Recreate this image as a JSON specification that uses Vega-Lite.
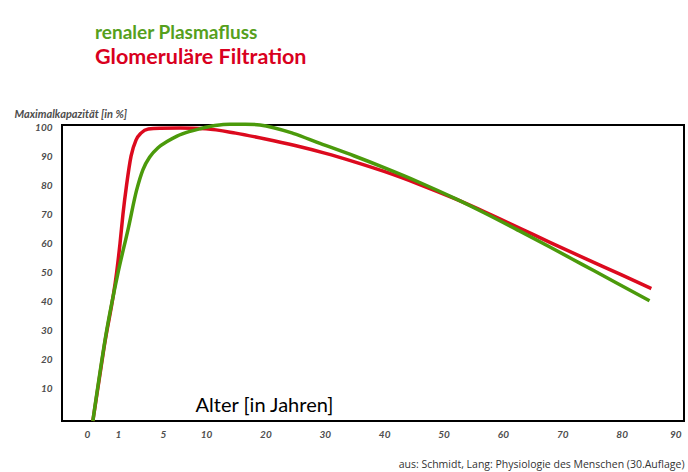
{
  "$schema": "https://vega.github.io/schema/vega-lite/v6.json",
  "autosize": "none",
  "width": 622,
  "height": 296,
  "padding": {"left": 62, "top": 125, "right": 4, "bottom": 51},
  "background": "white",
  "title": {
    "text": "renaler Plasmafluss",
    "subtitle": "Glomeruläre Filtration",
    "anchor": "start",
    "frame": "group",
    "orient": "top",
    "dx": 33,
    "dy": -36,
    "font": "Lato",
    "fontSize": 19,
    "fontWeight": "bold",
    "color": "#56a01d",
    "subtitleFont": "Lato",
    "subtitleFontSize": 21.5,
    "subtitleFontWeight": "bold",
    "subtitleColor": "#d9001e",
    "subtitlePadding": 4
  },
  "config": {
    "view": {"stroke": "black", "strokeWidth": 2},
    "axis": {"grid": false, "ticks": false, "domain": false}
  },
  "data": {
    "values": [
      {"series": "Glomeruläre Filtration", "age": 0.26, "value": -1},
      {"series": "Glomeruläre Filtration", "age": 0.6, "value": 25},
      {"series": "Glomeruläre Filtration", "age": 0.96, "value": 50},
      {"series": "Glomeruläre Filtration", "age": 1.18, "value": 60},
      {"series": "Glomeruläre Filtration", "age": 1.44, "value": 70},
      {"series": "Glomeruläre Filtration", "age": 1.76, "value": 80},
      {"series": "Glomeruläre Filtration", "age": 2.16, "value": 90},
      {"series": "Glomeruläre Filtration", "age": 2.6, "value": 95.5},
      {"series": "Glomeruläre Filtration", "age": 3.07, "value": 98},
      {"series": "Glomeruläre Filtration", "age": 3.7, "value": 99.3},
      {"series": "Glomeruläre Filtration", "age": 4.7, "value": 99.6},
      {"series": "Glomeruläre Filtration", "age": 7, "value": 99.7},
      {"series": "Glomeruläre Filtration", "age": 10, "value": 99.4},
      {"series": "Glomeruläre Filtration", "age": 15, "value": 97.9},
      {"series": "Glomeruläre Filtration", "age": 20, "value": 95.9},
      {"series": "Glomeruläre Filtration", "age": 25, "value": 93.65},
      {"series": "Glomeruläre Filtration", "age": 30, "value": 91.05},
      {"series": "Glomeruläre Filtration", "age": 35, "value": 88.05},
      {"series": "Glomeruläre Filtration", "age": 40, "value": 84.75},
      {"series": "Glomeruläre Filtration", "age": 46, "value": 80.25},
      {"series": "Glomeruläre Filtration", "age": 52, "value": 75.3},
      {"series": "Glomeruläre Filtration", "age": 57, "value": 70.8},
      {"series": "Glomeruläre Filtration", "age": 62.7, "value": 65.4},
      {"series": "Glomeruläre Filtration", "age": 68, "value": 60.3},
      {"series": "Glomeruläre Filtration", "age": 74, "value": 54.7},
      {"series": "Glomeruläre Filtration", "age": 80, "value": 49.2},
      {"series": "Glomeruläre Filtration", "age": 85, "value": 44.5},
      {"series": "renaler Plasmafluss", "age": 0.26, "value": -1},
      {"series": "renaler Plasmafluss", "age": 0.67, "value": 30.3},
      {"series": "renaler Plasmafluss", "age": 1.0, "value": 49.9},
      {"series": "renaler Plasmafluss", "age": 1.92, "value": 65.3},
      {"series": "renaler Plasmafluss", "age": 2.66, "value": 78.4},
      {"series": "renaler Plasmafluss", "age": 3.22, "value": 85.4},
      {"series": "renaler Plasmafluss", "age": 3.84, "value": 89.8},
      {"series": "renaler Plasmafluss", "age": 4.56, "value": 92.9},
      {"series": "renaler Plasmafluss", "age": 5.47, "value": 95.0},
      {"series": "renaler Plasmafluss", "age": 6.63, "value": 96.9},
      {"series": "renaler Plasmafluss", "age": 8.14, "value": 98.5},
      {"series": "renaler Plasmafluss", "age": 9.3, "value": 99.4},
      {"series": "renaler Plasmafluss", "age": 11.5, "value": 100.5},
      {"series": "renaler Plasmafluss", "age": 14, "value": 101.0},
      {"series": "renaler Plasmafluss", "age": 16.6, "value": 101.0},
      {"series": "renaler Plasmafluss", "age": 19.1, "value": 100.7},
      {"series": "renaler Plasmafluss", "age": 24.65, "value": 97.85},
      {"series": "renaler Plasmafluss", "age": 29.2, "value": 94.4},
      {"series": "renaler Plasmafluss", "age": 35, "value": 90.05},
      {"series": "renaler Plasmafluss", "age": 40, "value": 86.05},
      {"series": "renaler Plasmafluss", "age": 46, "value": 80.95},
      {"series": "renaler Plasmafluss", "age": 52, "value": 75.4},
      {"series": "renaler Plasmafluss", "age": 57, "value": 70.4},
      {"series": "renaler Plasmafluss", "age": 62.7, "value": 64.4},
      {"series": "renaler Plasmafluss", "age": 68, "value": 58.7},
      {"series": "renaler Plasmafluss", "age": 73.5, "value": 52.65},
      {"series": "renaler Plasmafluss", "age": 79, "value": 46.6},
      {"series": "renaler Plasmafluss", "age": 84.7, "value": 40.3}
    ]
  },
  "layer": [
    {
      "transform": [{"filter": "datum.series === 'Glomeruläre Filtration'"}],
      "mark": {"type": "line", "interpolate": "monotone", "strokeWidth": 3.5, "strokeCap": "butt"},
      "encoding": {
        "x": {
          "field": "age", "type": "quantitative",
          "scale": {"domain": [0, 1, 5, 10, 90], "range": [22, 56, 101, 144, 619], "nice": false, "zero": false},
          "axis": {
            "orient": "bottom",
            "values": [0, 1, 5, 10, 20, 30, 40, 50, 60, 70, 80, 90],
            "labelFont": "Lato", "labelFontSize": 10, "labelFontStyle": "italic", "labelFontWeight": "bold",
            "labelColor": "#4d4d4d", "labelPadding": 8,
            "title": "Alter [in Jahren]", "titleFont": "Lato", "titleFontSize": 20, "titleFontWeight": "normal",
            "titleColor": "black", "titleX": 202, "titleY": -16, "titleAlign": "center", "titleBaseline": "middle"
          }
        },
        "y": {
          "field": "value", "type": "quantitative",
          "scale": {"domain": [-1, 100.7], "nice": false, "zero": false},
          "axis": {
            "values": [10, 20, 30, 40, 50, 60, 70, 80, 90, 100],
            "labelFont": "Lato", "labelFontSize": 10, "labelFontStyle": "italic", "labelFontWeight": "bold",
            "labelColor": "#4d4d4d", "labelPadding": 10,
            "title": "Maximalkapazität [in %]", "titleFont": "Lato", "titleFontSize": 11, "titleFontStyle": "italic",
            "titleFontWeight": "bold", "titleColor": "#4d4d4d", "titleAngle": 0, "titleX": -48, "titleY": -11,
            "titleAlign": "left", "titleBaseline": "middle"
          }
        },
        "color": {
          "field": "series", "type": "nominal",
          "scale": {"domain": ["renaler Plasmafluss", "Glomeruläre Filtration"], "range": ["#4b9a0b", "#dc0a1e"]},
          "legend": null
        }
      }
    },
    {
      "transform": [{"filter": "datum.series === 'renaler Plasmafluss'"}],
      "mark": {"type": "line", "interpolate": "monotone", "strokeWidth": 3.5, "strokeCap": "butt"},
      "encoding": {
        "x": {
          "field": "age", "type": "quantitative",
          "scale": {"domain": [0, 1, 5, 10, 90], "range": [22, 56, 101, 144, 619], "nice": false, "zero": false},
          "axis": {
            "orient": "top", "labels": false,
            "title": "aus: Schmidt, Lang: Physiologie des Menschen (30.Auflage)",
            "titleFont": "Open Sans", "titleFontSize": 10.5, "titleFontWeight": "normal", "titleColor": "#333333",
            "titleX": 622, "titleY": 339, "titleAlign": "right", "titleBaseline": "middle"
          }
        },
        "y": {
          "field": "value", "type": "quantitative",
          "scale": {"domain": [-1, 100.7], "nice": false, "zero": false},
          "axis": {
            "values": [10, 20, 30, 40, 50, 60, 70, 80, 90, 100],
            "labelFont": "Lato", "labelFontSize": 10, "labelFontStyle": "italic", "labelFontWeight": "bold",
            "labelColor": "#4d4d4d", "labelPadding": 10,
            "title": "Maximalkapazität [in %]", "titleFont": "Lato", "titleFontSize": 11, "titleFontStyle": "italic",
            "titleFontWeight": "bold", "titleColor": "#4d4d4d", "titleAngle": 0, "titleX": -48, "titleY": -11,
            "titleAlign": "left", "titleBaseline": "middle"
          }
        },
        "color": {
          "field": "series", "type": "nominal",
          "scale": {"domain": ["renaler Plasmafluss", "Glomeruläre Filtration"], "range": ["#4b9a0b", "#dc0a1e"]},
          "legend": null
        }
      }
    }
  ],
  "resolve": {"axis": {"x": "independent"}}
}
